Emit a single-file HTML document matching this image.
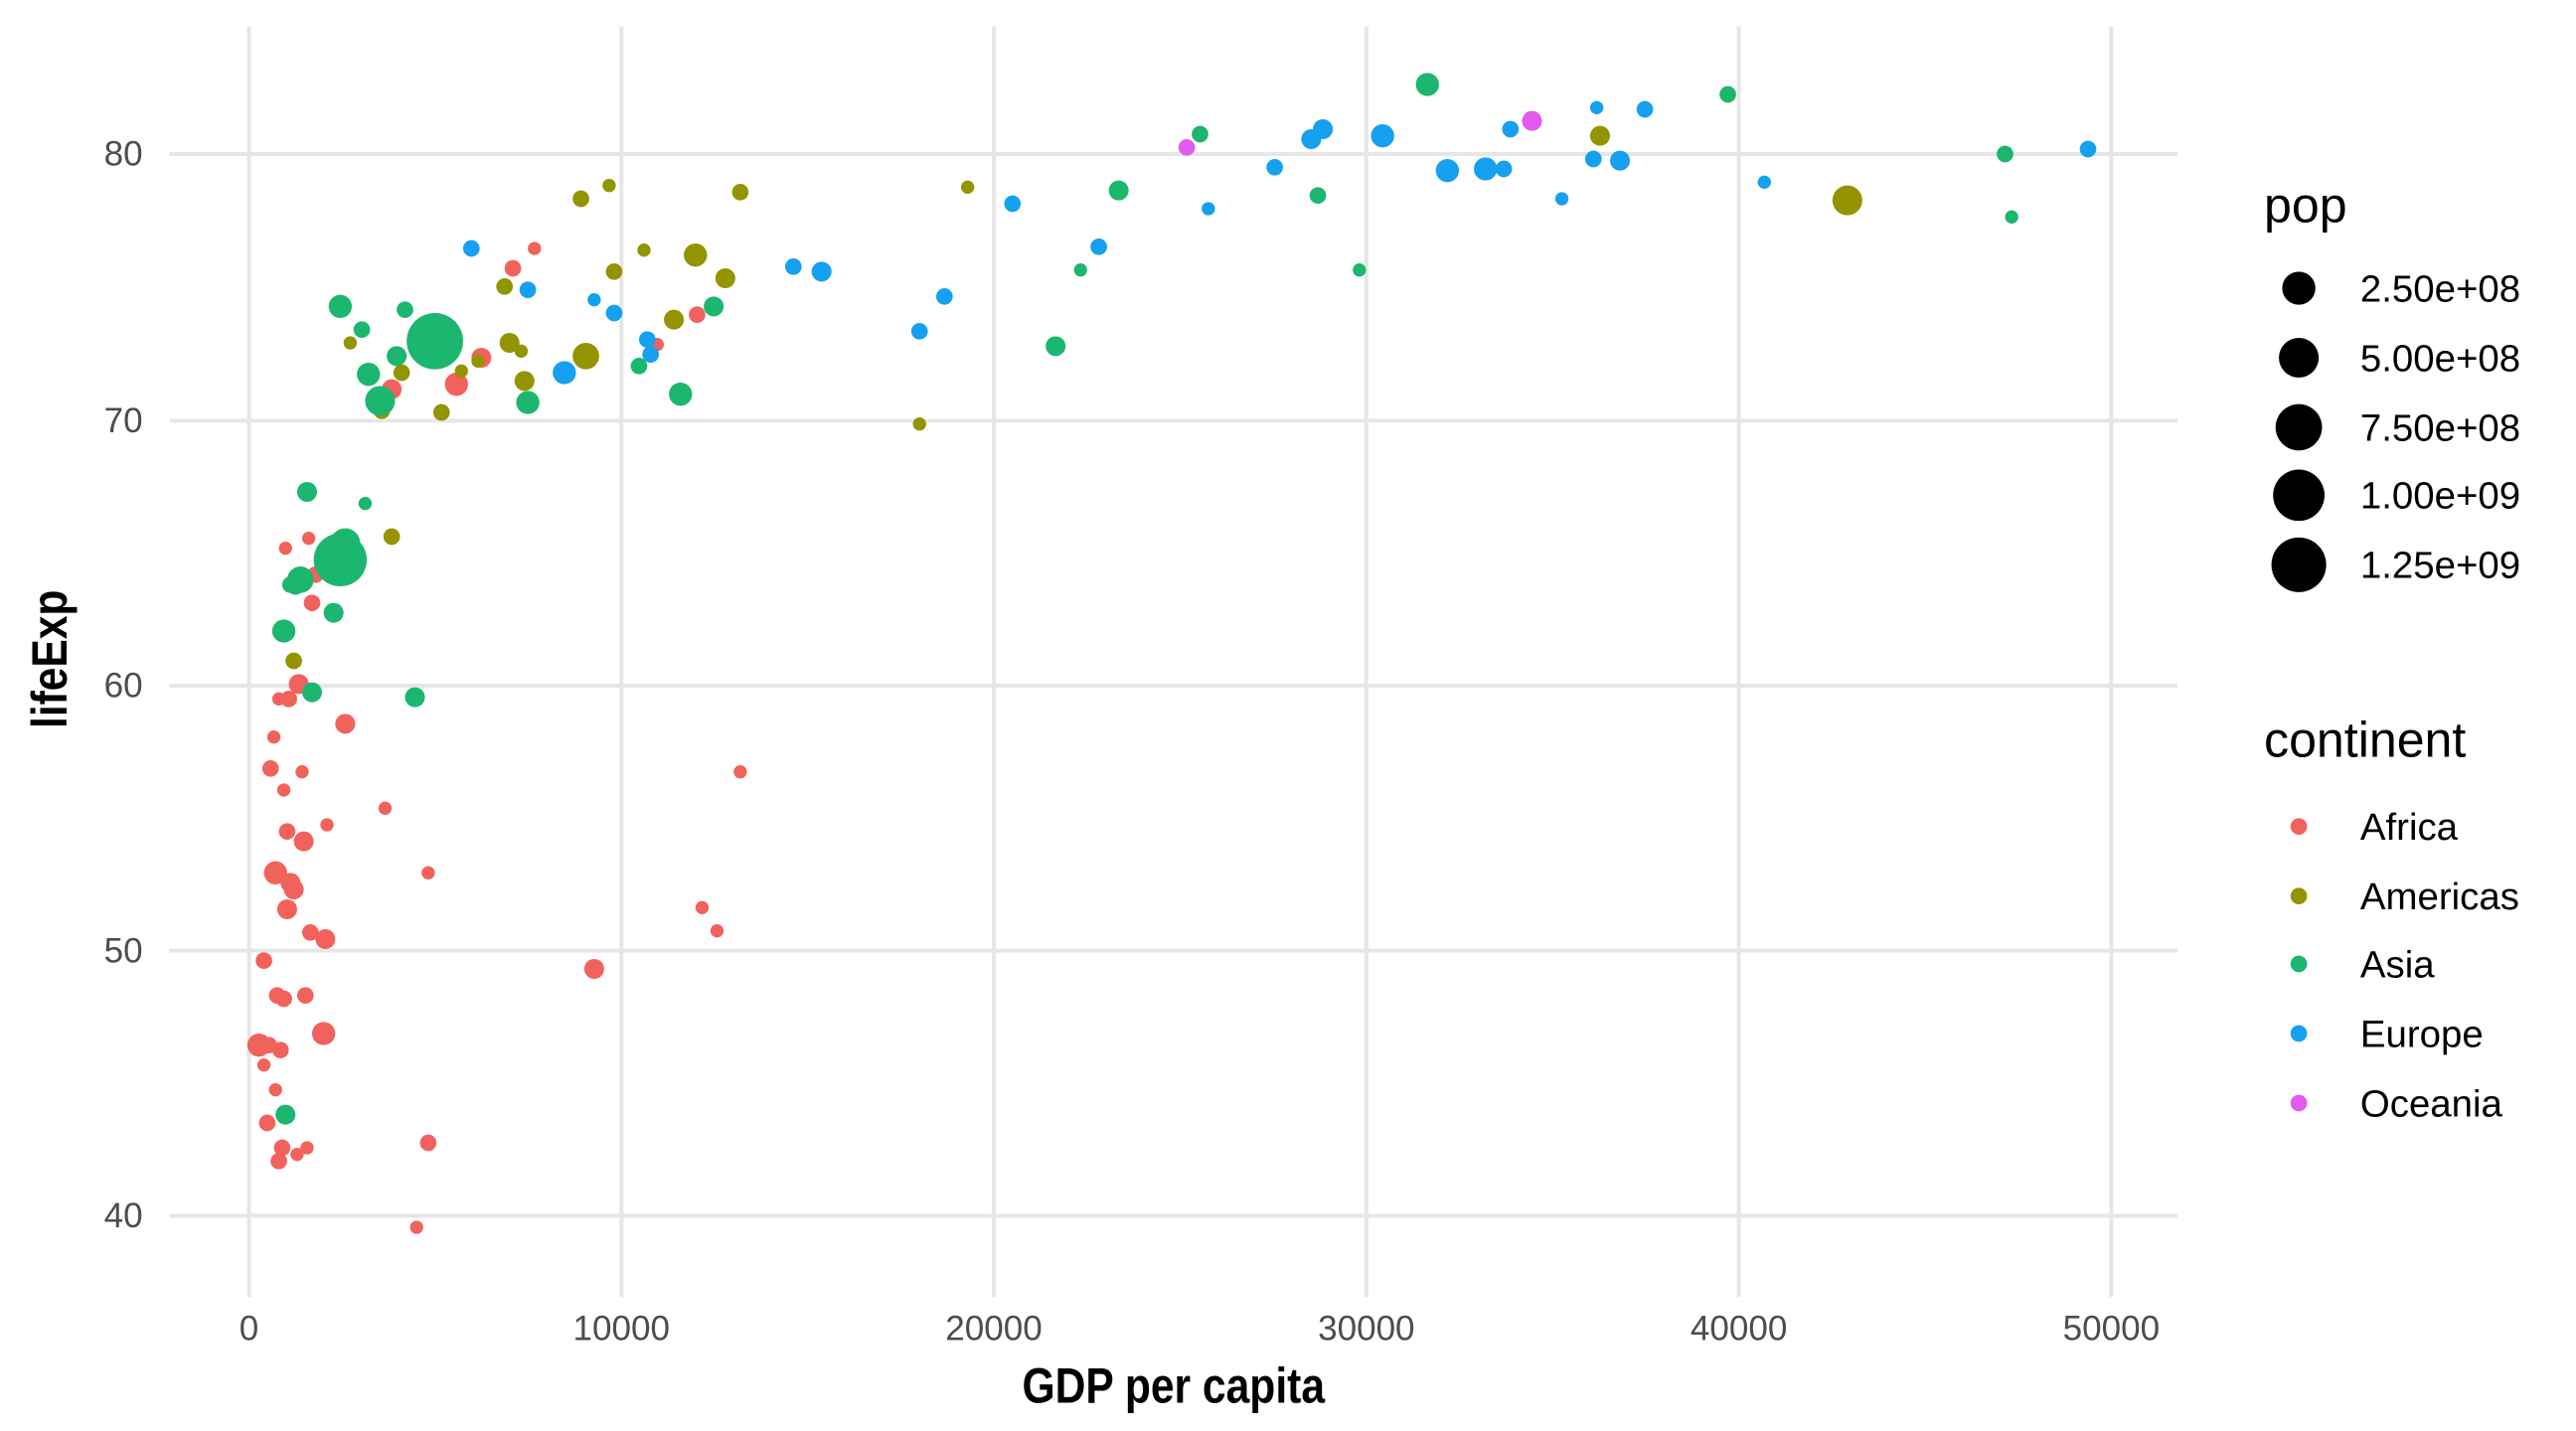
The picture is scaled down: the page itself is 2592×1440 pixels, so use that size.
<!DOCTYPE html>
<html><head><meta charset="utf-8"><style>
html,body{margin:0;padding:0;background:#fff;}
svg{display:block;}
text{font-family:"Liberation Sans",sans-serif;}
</style></head><body>
<svg width="2592" height="1440" viewBox="0 0 1552 864" preserveAspectRatio="none" xmlns="http://www.w3.org/2000/svg">
<rect width="1552" height="864" fill="#fff"/>
<g stroke="#e6e6e6" stroke-width="2.4">
<line x1="102" x2="1312" y1="93" y2="93"/><line x1="102" x2="1312" y1="254" y2="254"/><line x1="102" x2="1312" y1="414" y2="414"/><line x1="102" x2="1312" y1="574" y2="574"/><line x1="102" x2="1312" y1="734" y2="734"/>
<line x1="150" x2="150" y1="16" y2="783"/><line x1="374.4" x2="374.4" y1="16" y2="783"/><line x1="598.8" x2="598.8" y1="16" y2="783"/><line x1="823.2" x2="823.2" y1="16" y2="783"/><line x1="1047.6" x2="1047.6" y1="16" y2="783"/><line x1="1272" x2="1272" y1="16" y2="783"/>
</g>
<g font-size="21" fill="#4d4d4d" text-anchor="end">
<text x="86" y="100">80</text><text x="86" y="261">70</text><text x="86" y="421">60</text><text x="86" y="581">50</text><text x="86" y="741">40</text>
</g>
<g font-size="21" fill="#4d4d4d" text-anchor="middle">
<text x="150" y="809">0</text><text x="374.4" y="809">10000</text><text x="598.8" y="809">20000</text><text x="823.2" y="809">30000</text><text x="1047.6" y="809">40000</text><text x="1272" y="809">50000</text>
</g>
<text x="707" y="847" font-size="30" font-weight="bold" text-anchor="middle" fill="#000" transform="translate(707 847) scale(0.85 1) translate(-707 -847)">GDP per capita</text>
<text x="0" y="0" font-size="30" font-weight="bold" text-anchor="middle" fill="#000" transform="translate(40 398) rotate(-90) scale(0.85 1)">lifeExp</text>
<g fill="#F2625C">
<circle cx="322" cy="150" r="4"/><circle cx="309" cy="162" r="5"/><circle cx="290" cy="216" r="6"/><circle cx="275" cy="232" r="7"/><circle cx="236" cy="235" r="6"/><circle cx="396" cy="208" r="4"/><circle cx="420" cy="190" r="5"/><circle cx="186" cy="325" r="4"/><circle cx="172" cy="331" r="4"/><circle cx="190" cy="347" r="5"/><circle cx="188" cy="364" r="5"/><circle cx="180" cy="413" r="6"/><circle cx="168" cy="422" r="4"/><circle cx="174" cy="422" r="5"/><circle cx="208" cy="437" r="6"/><circle cx="165" cy="445" r="4"/><circle cx="232" cy="488" r="4"/><circle cx="163" cy="464" r="5"/><circle cx="182" cy="466" r="4"/><circle cx="446" cy="466" r="4"/><circle cx="171" cy="477" r="4"/><circle cx="173" cy="502" r="5"/><circle cx="183" cy="508" r="6"/><circle cx="197" cy="498" r="4"/><circle cx="166" cy="527" r="7"/><circle cx="175" cy="533" r="6"/><circle cx="177" cy="537" r="6"/><circle cx="258" cy="527" r="4"/><circle cx="173" cy="549" r="6"/><circle cx="187" cy="563" r="5"/><circle cx="196" cy="567" r="6"/><circle cx="423" cy="548" r="4"/><circle cx="432" cy="562" r="4"/><circle cx="159" cy="580" r="5"/><circle cx="358" cy="585" r="6"/><circle cx="167" cy="601" r="5"/><circle cx="171" cy="603" r="5"/><circle cx="184" cy="601" r="5"/><circle cx="156" cy="631" r="7"/><circle cx="162" cy="631" r="5"/><circle cx="169" cy="634" r="5"/><circle cx="195" cy="624" r="7"/><circle cx="159" cy="643" r="4"/><circle cx="166" cy="658" r="4"/><circle cx="161" cy="678" r="5"/><circle cx="170" cy="693" r="5"/><circle cx="185" cy="693" r="4"/><circle cx="179" cy="697" r="4"/><circle cx="168" cy="701" r="5"/><circle cx="258" cy="690" r="5"/><circle cx="251" cy="741" r="4"/>
</g>
<g fill="#939400">
<circle cx="964" cy="82" r="6"/><circle cx="1113" cy="121" r="9"/><circle cx="583" cy="113" r="4"/><circle cx="446" cy="116" r="5"/><circle cx="367" cy="112" r="4"/><circle cx="350" cy="120" r="5"/><circle cx="388" cy="151" r="4"/><circle cx="370" cy="164" r="5"/><circle cx="419" cy="154" r="7"/><circle cx="304" cy="173" r="5"/><circle cx="437" cy="168" r="6"/><circle cx="307" cy="207" r="6"/><circle cx="314" cy="212" r="4"/><circle cx="406" cy="193" r="6"/><circle cx="353" cy="215" r="8"/><circle cx="288" cy="218" r="4"/><circle cx="278" cy="224" r="4"/><circle cx="242" cy="225" r="5"/><circle cx="211" cy="207" r="4"/><circle cx="316" cy="230" r="6"/><circle cx="230" cy="248" r="5"/><circle cx="266" cy="249" r="5"/><circle cx="554" cy="256" r="4"/><circle cx="236" cy="324" r="5"/><circle cx="177" cy="399" r="5"/>
</g>
<g fill="#1BB76E">
<circle cx="860" cy="51" r="7"/><circle cx="1041" cy="57" r="5"/><circle cx="723" cy="81" r="5"/><circle cx="1208" cy="93" r="5"/><circle cx="674" cy="115" r="6"/><circle cx="794" cy="118" r="5"/><circle cx="1212" cy="131" r="4"/><circle cx="651" cy="163" r="4"/><circle cx="819" cy="163" r="4"/><circle cx="636" cy="209" r="6"/><circle cx="430" cy="185" r="6"/><circle cx="205" cy="185" r="7"/><circle cx="244" cy="187" r="5"/><circle cx="218" cy="199" r="5"/><circle cx="262" cy="206" r="17"/><circle cx="239" cy="215" r="6"/><circle cx="222" cy="226" r="7"/><circle cx="229" cy="242" r="9"/><circle cx="410" cy="238" r="7"/><circle cx="318" cy="243" r="7"/><circle cx="385" cy="221" r="5"/><circle cx="185" cy="297" r="6"/><circle cx="220" cy="304" r="4"/><circle cx="208" cy="328" r="9"/><circle cx="205" cy="338" r="16"/><circle cx="181" cy="350" r="8"/><circle cx="178" cy="353" r="6"/><circle cx="175" cy="353" r="5"/><circle cx="201" cy="370" r="6"/><circle cx="171" cy="381" r="7"/><circle cx="188" cy="418" r="6"/><circle cx="250" cy="421" r="6"/><circle cx="172" cy="673" r="6"/>
</g>
<g fill="#16A0F0">
<circle cx="962" cy="65" r="4"/><circle cx="991" cy="66" r="5"/><circle cx="797" cy="78" r="6"/><circle cx="790" cy="84" r="6"/><circle cx="833" cy="82" r="7"/><circle cx="910" cy="78" r="5"/><circle cx="768" cy="101" r="5"/><circle cx="872" cy="103" r="7"/><circle cx="895" cy="102" r="7"/><circle cx="906" cy="102" r="5"/><circle cx="960" cy="96" r="5"/><circle cx="976" cy="97" r="6"/><circle cx="1063" cy="110" r="4"/><circle cx="1258" cy="90" r="5"/><circle cx="941" cy="120" r="4"/><circle cx="610" cy="123" r="5"/><circle cx="728" cy="126" r="4"/><circle cx="662" cy="149" r="5"/><circle cx="478" cy="161" r="5"/><circle cx="495" cy="164" r="6"/><circle cx="284" cy="150" r="5"/><circle cx="318" cy="175" r="5"/><circle cx="358" cy="181" r="4"/><circle cx="370" cy="189" r="5"/><circle cx="569" cy="179" r="5"/><circle cx="554" cy="200" r="5"/><circle cx="390" cy="205" r="5"/><circle cx="392" cy="214" r="5"/><circle cx="340" cy="225" r="7"/>
</g>
<g fill="#E05BEE"><circle cx="923" cy="73" r="6"/><circle cx="715" cy="89" r="5"/></g>
<text x="1364" y="134" font-size="30" fill="#000">pop</text>
<g fill="#000">
<circle cx="1385" cy="174" r="10"/><circle cx="1385" cy="216" r="12"/><circle cx="1385" cy="258" r="14"/><circle cx="1385" cy="299" r="15.5"/><circle cx="1385" cy="341" r="16.5"/>
</g>
<g font-size="23" fill="#000">
<text x="1422" y="182">2.50e+08</text><text x="1422" y="224">5.00e+08</text><text x="1422" y="266">7.50e+08</text><text x="1422" y="307">1.00e+09</text><text x="1422" y="349">1.25e+09</text>
</g>
<text x="1364" y="457" font-size="30" fill="#000">continent</text>
<circle cx="1385" cy="499" r="5" fill="#F2625C"/><circle cx="1385" cy="541" r="5" fill="#939400"/><circle cx="1385" cy="582" r="5" fill="#1BB76E"/><circle cx="1385" cy="624" r="5" fill="#16A0F0"/><circle cx="1385" cy="666" r="5" fill="#E05BEE"/>
<g font-size="23" fill="#000">
<text x="1422" y="507">Africa</text><text x="1422" y="549">Americas</text><text x="1422" y="590">Asia</text><text x="1422" y="632">Europe</text><text x="1422" y="674">Oceania</text>
</g>
</svg>
</body></html>
